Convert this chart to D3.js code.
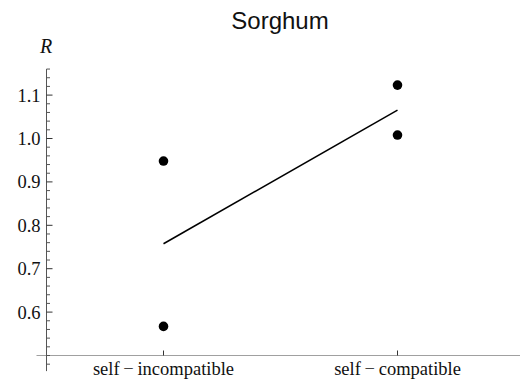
<!DOCTYPE html>
<html>
<head>
<meta charset="utf-8">
<script src="https://cdn.jsdelivr.net/npm/d3@7"></script>
<style>
  html, body { margin: 0; padding: 0; background: #fff; }
  svg { display: block; }
</style>
</head>
<body>
<svg id="chart" width="520" height="385"></svg>
<script>
// Breeding system groups and the observed R values for each
const categories = ["self\u2009\u2212\u2009incompatible", "self\u2009\u2212\u2009compatible"];
const incompatibleValues = [0.948, 0.567];
const compatibleValues = [1.123, 1.008];
const majorTicks = [0.6, 0.7, 0.8, 0.9, 1.0, 1.1];
const minorTicks = [0.48, 0.5, 0.52, 0.54, 0.56, 0.58, 0.62, 0.64, 0.66, 0.68, 0.72, 0.74, 0.76, 0.78,
  0.82, 0.84, 0.86, 0.88, 0.92, 0.94, 0.96, 0.98, 1.02, 1.04, 1.06, 1.08, 1.12, 1.14, 1.16];
const titleText = "Sorghum";
const yLabel = "R";

const groups = [incompatibleValues, compatibleValues];
const points = [];
groups.forEach((vals, i) => vals.forEach(v => points.push({ cat: categories[i], v })));
const means = groups.map((vals, i) => ({ cat: categories[i], v: d3.mean(vals) }));

const svg = d3.select("#chart");
const serif = "'Liberation Serif', 'Times New Roman', serif";

const x = d3.scalePoint().domain(categories).range([46.5, 514.5]).padding(0.5);
const y = d3.scaleLinear().domain([0.5, 1.1]).range([355.5, 95.1]);

// x axis line (gray), crossing at R = 0.5
svg.append("line")
  .attr("x1", 36.5).attr("x2", 520)
  .attr("y1", y(0.5)).attr("y2", y(0.5))
  .attr("stroke", "#a0a0a0").attr("stroke-width", 1.2);

// category ticks
svg.selectAll(".xtick").data(categories).enter().append("line")
  .attr("x1", d => x(d)).attr("x2", d => x(d))
  .attr("y1", y(0.5)).attr("y2", y(0.5) - 5)
  .attr("stroke", "#333").attr("stroke-width", 1);

svg.selectAll(".xlabel").data(categories).enter().append("text")
  .attr("x", d => x(d)).attr("y", 374.5)
  .attr("text-anchor", "middle")
  .attr("font-family", serif).attr("font-size", 18.5)
  .attr("fill", "#111")
  .text(d => d);

// y axis
const x0 = 46.5;
svg.append("line")
  .attr("x1", x0).attr("x2", x0)
  .attr("y1", y(1.16)).attr("y2", y(0.464))
  .attr("stroke", "#555").attr("stroke-width", 1);

svg.selectAll(".minor").data(minorTicks).enter().append("line")
  .attr("x1", x0).attr("x2", x0 + 3.5)
  .attr("y1", d => y(d)).attr("y2", d => y(d))
  .attr("stroke", "#555").attr("stroke-width", 1);

svg.selectAll(".major").data(majorTicks).enter().append("line")
  .attr("x1", x0).attr("x2", x0 + 6)
  .attr("y1", d => y(d)).attr("y2", d => y(d))
  .attr("stroke", "#333").attr("stroke-width", 1);

svg.selectAll(".ylabel").data(majorTicks).enter().append("text")
  .attr("x", 40.5).attr("y", d => y(d) + 6.5)
  .attr("text-anchor", "end")
  .attr("font-family", serif).attr("font-size", 18.5)
  .attr("fill", "#111")
  .text(d => d3.format(".1f")(d));

svg.append("text")
  .attr("x", 46).attr("y", 53)
  .attr("text-anchor", "middle")
  .attr("font-family", serif).attr("font-style", "italic").attr("font-size", 20)
  .attr("fill", "#111")
  .text(yLabel);

// title
svg.append("text")
  .attr("x", 280).attr("y", 28.5)
  .attr("text-anchor", "middle")
  .attr("font-family", "'Liberation Sans', Arial, sans-serif").attr("font-size", 24)
  .attr("fill", "#111")
  .text(titleText);

// line joining the group means
svg.append("path")
  .datum(means)
  .attr("d", d3.line().x(d => x(d.cat)).y(d => y(d.v)))
  .attr("fill", "none").attr("stroke", "#000").attr("stroke-width", 1.6);

// observations
svg.selectAll(".pt").data(points).enter().append("circle")
  .attr("cx", d => x(d.cat)).attr("cy", d => y(d.v))
  .attr("r", 4.8).attr("fill", "#000");
</script>
</body>
</html>
